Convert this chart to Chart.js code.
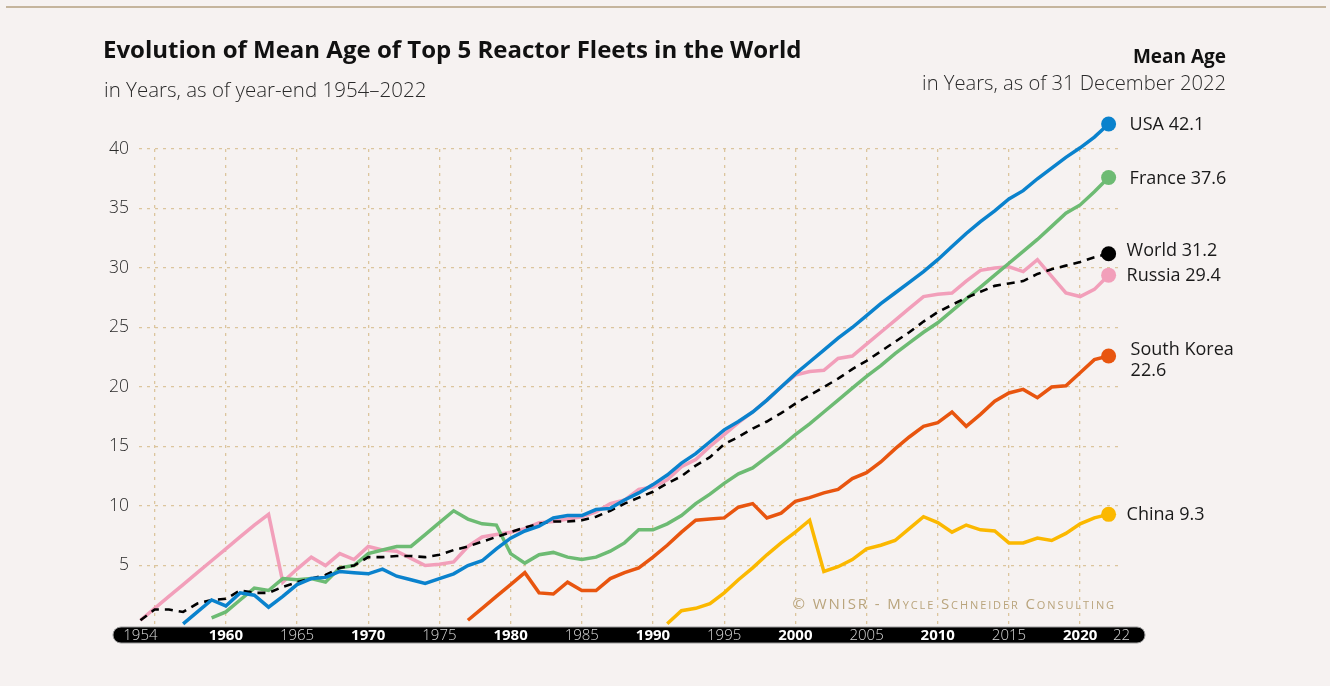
<!DOCTYPE html>
<html>
<head>
<meta charset="utf-8">
<script src="https://cdn.jsdelivr.net/npm/chart.js@4.4.0/dist/chart.umd.min.js"></script>
<style>
  html, body { margin: 0; padding: 0; background: #f6f2f1; }
  #wrap { position: relative; width: 1330px; height: 686px; overflow: hidden; }
  #topline { position: absolute; left: 6px; right: 4px; top: 6px; height: 2px; background: #c5b59d; }
  .t { position: absolute; white-space: nowrap; font-family: "Open Sans", Roboto, sans-serif; color: #111; line-height: 1; }
  #title { left: 103px; top: 37px; font-size: 24px; font-weight: 700; }
  #sub { left: 104px; top: 79px; font-size: 20.5px; font-weight: 300; color: #2a2a2a; }
  #rtitle { right: 104px; top: 47px; font-size: 19px; font-weight: 700; }
  #rsub { right: 104px; top: 72px; font-size: 20.2px; font-weight: 300; color: #2a2a2a; }
  #copy { right: 214px; top: 596px; font-size: 15px; font-variant: small-caps; letter-spacing: 1.9px; color: #b9a47c; }
  canvas { position: absolute; left: 0; top: 0; }
</style>
</head>
<body>
<div id="wrap">
  <div id="topline"></div>
  <canvas id="ageChart" width="1330" height="686"></canvas>
  <div class="t" id="title">Evolution of Mean Age of Top 5 Reactor Fleets in the World</div>
  <div class="t" id="sub">in Years, as of year-end 1954–2022</div>
  <div class="t" id="rtitle">Mean Age</div>
  <div class="t" id="rsub">in Years, as of 31 December 2022</div>
  <div class="t" id="copy">© WNISR - Mycle Schneider Consulting</div>
</div>
<script>
// mean age per fleet, one value per year from the start year to 2022
const usaStart = 1957;
const usa = [
  0.1, 1.1, 2.1,
  1.6, 2.7, 2.5, 1.5, 2.4, 3.4, 3.9, 4.0, 4.5, 4.4,
  4.3, 4.7, 4.1, 3.8, 3.5, 3.9, 4.3, 5.0, 5.4, 6.4,
  7.3, 7.9, 8.3, 9.0, 9.2, 9.2, 9.7, 9.8, 10.5, 11.1,
  11.8, 12.6, 13.6, 14.4, 15.4, 16.4, 17.1, 17.9, 18.9, 20.0,
  21.1, 22.1, 23.1, 24.1, 25.0, 26.0, 27.0, 27.9, 28.8, 29.7,
  30.7, 31.8, 32.9, 33.9, 34.8, 35.8, 36.5, 37.5, 38.4, 39.3,
  40.1, 41.0, 42.1
];

const franceStart = 1959;
const france = [
  0.6,
  1.1, 2.1, 3.1, 2.9, 3.9, 3.8, 3.9, 3.6, 4.8, 5.0,
  6.0, 6.3, 6.6, 6.6, 7.6, 8.6, 9.6, 8.9, 8.5, 8.4,
  6.0, 5.2, 5.9, 6.1, 5.7, 5.5, 5.7, 6.2, 6.9, 8.0,
  8.0, 8.5, 9.2, 10.2, 11.0, 11.9, 12.7, 13.2, 14.1, 15.0,
  16.0, 16.9, 17.9, 18.9, 19.9, 20.9, 21.8, 22.8, 23.7, 24.6,
  25.4, 26.4, 27.4, 28.4, 29.4, 30.4, 31.4, 32.4, 33.5, 34.6,
  35.3, 36.4, 37.6
];

const worldStart = 1954;
const world = [
  0.4, 1.3, 1.3, 1.1, 1.8, 2.1,
  2.2, 2.9, 2.7, 2.7, 3.2, 3.6, 3.9, 4.2, 4.8, 5.0,
  5.7, 5.7, 5.8, 5.8, 5.7, 5.9, 6.3, 6.6, 7.0, 7.4,
  7.8, 8.2, 8.5, 8.7, 8.7, 8.8, 9.1, 9.6, 10.2, 10.7,
  11.2, 11.9, 12.5, 13.4, 14.1, 15.2, 15.8, 16.5, 17.1, 17.8,
  18.6, 19.3, 20.0, 20.7, 21.5, 22.2, 23.0, 23.8, 24.6, 25.5,
  26.3, 26.9, 27.5, 28.0, 28.5, 28.7, 28.9, 29.5, 29.9, 30.2,
  30.5, 30.9, 31.2
];

const russiaStart = 1954;
const russia = [
  0.4, 1.4, 2.4, 3.4, 4.4, 5.4,
  6.4, 7.4, 8.4, 9.3, 3.6, 4.7, 5.7, 5.0, 6.0, 5.5,
  6.6, 6.3, 6.2, 5.6, 5.0, 5.1, 5.3, 6.6, 7.4, 7.6,
  7.8, 8.1, 8.6, 8.7, 8.9, 9.1, 9.5, 10.2, 10.5, 11.4,
  11.6, 12.2, 13.3, 13.9, 15.0, 16.0, 17.0, 17.9, 18.9, 20.0,
  21.0, 21.3, 21.4, 22.4, 22.6, 23.6, 24.6, 25.6, 26.6, 27.6,
  27.8, 27.9, 28.9, 29.8, 30.0, 30.1, 29.7, 30.7, 29.3, 27.9,
  27.6, 28.2, 29.4
];

const koreaStart = 1977;
const korea = [
  0.4, 1.4, 2.4,
  3.4, 4.4, 2.7, 2.6, 3.6, 2.9, 2.9, 3.9, 4.4, 4.8,
  5.7, 6.7, 7.8, 8.8, 8.9, 9.0, 9.9, 10.2, 9.0, 9.4,
  10.4, 10.7, 11.1, 11.4, 12.3, 12.8, 13.7, 14.8, 15.8, 16.7,
  17.0, 17.9, 16.7, 17.7, 18.8, 19.5, 19.8, 19.1, 20.0, 20.1,
  21.2, 22.3, 22.6
];

const chinaStart = 1991;
const china = [
  0.1, 1.2, 1.4, 1.8, 2.7, 3.8, 4.8, 5.9, 6.9,
  7.8, 8.8, 4.5, 4.9, 5.5, 6.4, 6.7, 7.1, 8.1, 9.1,
  8.6, 7.8, 8.4, 8.0, 7.9, 6.9, 6.9, 7.3, 7.1, 7.7,
  8.5, 9.0, 9.3
];

const gridYears = [1955, 1960, 1965, 1970, 1975, 1980, 1985, 1990, 1995, 2000, 2005, 2010, 2015, 2020];
const yTicks = [5, 10, 15, 20, 25, 30, 35, 40];
const axisYears = [1954, 1960, 1965, 1970, 1975, 1980, 1985, 1990, 1995, 2000, 2005, 2010, 2015, 2020, 2022];
const axisLabels = ["1954", "1960", "1965", "1970", "1975", "1980", "1985", "1990", "1995", "2000", "2005", "2010", "2015", "2020", "22"];

const endLabels = ["USA 42.1", "World 31.2", "France 37.6", "Russia 29.4", "South Korea\n22.6", "China 9.3"];

function toPoints(start, values) {
  return values.map((v, i) => ({ x: start + i, y: v }));
}

function makeSet(label, start, values, color, dash) {
  return {
    label: label,
    data: toPoints(start, values),
    borderColor: color,
    backgroundColor: color,
    borderWidth: dash ? 2.6 : 3.5,
    borderDash: dash || [],
    pointRadius: 0,
    tension: 0,
    clip: false,
  };
}

// last-point dots and their labels (points above the chart area are not drawn by Chart.js)
const endLabelPlugin = {
  id: "endLabels",
  afterDatasetsDraw(chart) {
    const ctx = chart.ctx;
    ctx.save();
    chart.data.datasets.forEach((ds, i) => {
      const meta = chart.getDatasetMeta(i);
      const pt = meta.data[meta.data.length - 1];
      ctx.fillStyle = ds.borderColor;
      ctx.beginPath();
      ctx.arc(pt.x, pt.y, 7.5, 0, Math.PI * 2);
      ctx.fill();
    });
    ctx.font = "18px 'Open Sans', sans-serif";
    ctx.fillStyle = "#1a1a1a";
    ctx.textBaseline = "middle";
    chart.data.datasets.forEach((ds, i) => {
      const meta = chart.getDatasetMeta(i);
      const pt = meta.data[meta.data.length - 1];
      const lines = endLabels[i].split("\n");
      let y = pt.y + 1;
      let dx = lines.length > 1 ? 22 : 18;
      if (ds.label === "World") y -= 4;
      if (ds.label === "USA" || ds.label === "France") dx = 21;
      if (lines.length > 1) y -= 7;
      lines.forEach((line, k) => {
        ctx.fillText(line, pt.x + dx, y + k * 21);
      });
    });
    ctx.restore();
  },
};

const axisBarPlugin = {
  id: "axisBar",
  afterDraw(chart) {
    const { ctx, chartArea, scales } = chart;
    const left = chartArea.left - 26;
    const right = chartArea.right + 25;
    const top = chartArea.bottom + 2;
    ctx.save();
    ctx.fillStyle = "#000";
    ctx.strokeStyle = "#9a9a9a";
    ctx.lineWidth = 1;
    ctx.beginPath();
    ctx.roundRect(left, top, right - left, 16, 8);
    ctx.fill();
    ctx.stroke();
    ctx.textAlign = "center";
    ctx.textBaseline = "middle";
    axisYears.forEach((yr, i) => {
      const bold = yr % 10 === 0;
      ctx.font = (bold ? "700 " : "300 ") + "15px 'Open Sans', sans-serif";
      ctx.fillStyle = bold ? "#fff" : "#d8d8d8";
      let x = scales.x.getPixelForValue(yr);
      if (axisLabels[i] === "22") x += 13;
      ctx.fillText(axisLabels[i], x, top + 8.5);
    });
    ctx.restore();
  },
};

new Chart(document.getElementById("ageChart"), {
  type: "line",
  data: {
    datasets: [
      makeSet("USA", usaStart, usa, "#0a82cd"),
      makeSet("World", worldStart, world, "#000000", [8, 6]),
      makeSet("France", franceStart, france, "#6dbb73"),
      makeSet("Russia", russiaStart, russia, "#f29fba"),
      makeSet("South Korea", koreaStart, korea, "#e8550f"),
      makeSet("China", chinaStart, china, "#fbb800"),
    ],
  },
  options: {
    responsive: false,
    animation: false,
    events: [],
    layout: { padding: { top: 149, right: 210, left: 0, bottom: 0 } },
    scales: {
      x: {
        type: "linear",
        min: 1953.9,
        max: 2022.8,
        afterBuildTicks: (s) => { s.ticks = gridYears.map((v) => ({ value: v })); },
        afterFit: (s) => { s.height = 61; },
        ticks: { display: false },
        grid: { color: "#dcc59d", lineWidth: 1.3, drawTicks: false },
        border: { display: false, dash: [3, 5] },
      },
      y: {
        min: 0,
        max: 40,
        afterBuildTicks: (s) => { s.ticks = yTicks.map((v) => ({ value: v })); },
        afterFit: (s) => { s.width = 139; },
        ticks: {
          padding: 10,
          color: "#2a2a2a",
          font: { family: "'Open Sans'", size: 17.5, weight: 300 },
        },
        grid: { color: "#dcc59d", lineWidth: 1.3, drawTicks: false },
        border: { display: false, dash: [3, 5] },
      },
    },
    plugins: {
      legend: { display: false },
      tooltip: { enabled: false },
    },
  },
  plugins: [endLabelPlugin, axisBarPlugin],
});
</script>
</body>
</html>
